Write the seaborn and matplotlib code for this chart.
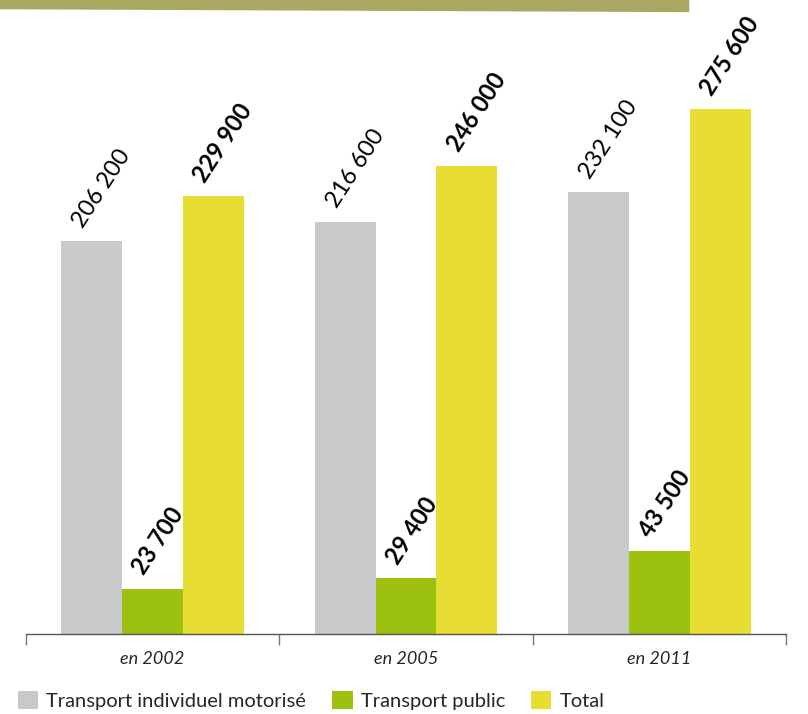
import pandas as pd
import matplotlib.pyplot as plt
import seaborn as sns
from matplotlib.patches import Patch, Polygon

# data
years = ["en 2002", "en 2005", "en 2011"]
series = ["Transport individuel motorisé", "Transport public", "Total"]
tim = [206200, 216600, 232100]
tp = [23700, 29400, 43500]
total = [229900, 246000, 275600]
value_labels = {
    "Transport individuel motorisé": ["206 200", "216 600", "232 100"],
    "Transport public": ["23 700", "29 400", "43 500"],
    "Total": ["229 900", "246 000", "275 600"],
}
colors = ["#C8C9CB", "#9DC10F", "#E8DD32"]

df = pd.DataFrame({
    "year": years * 3,
    "serie": [series[0]] * 3 + [series[1]] * 3 + [series[2]] * 3,
    "value": tim + tp + total,
})

sns.set_style("white")
plt.rcParams['font.family'] = ['Lato', 'DejaVu Sans']

fig = plt.figure(figsize=(8.08, 7.14), dpi=100)
ax = fig.add_axes([0.032, 0.112, 0.941, 0.888])

sns.barplot(data=df, x="year", y="value", hue="serie", hue_order=series,
            palette=colors, width=0.72, gap=0, saturation=1, ax=ax,
            legend=False, errorbar=None, linewidth=0, edgecolor="none")

ax.set_ylim(0, 333000)
ax.set_xlim(-0.5, 2.5)

# value labels, rotated
for cont, name in zip(ax.containers, series):
    bold = name != series[0]
    for bar, lab in zip(cont, value_labels[name]):
        x = bar.get_x() + bar.get_width() / 2
        ax.annotate(lab, (x, bar.get_height()), xytext=(-6, 9),
                    textcoords="offset points", rotation=57,
                    rotation_mode="anchor", ha="left", va="baseline",
                    fontsize=17, fontweight="bold" if bold else "normal",
                    color="black")

# axis styling
for s in ["top", "left", "right"]:
    ax.spines[s].set_visible(False)
ax.spines["bottom"].set_color("#555555")
ax.spines["bottom"].set_linewidth(1)
ax.set_yticks([])
ax.set_xticks([-0.5, 0.5, 1.5, 2.5])
ax.set_xticklabels([])
ax.tick_params(axis="x", which="major", direction="out", length=8,
               color="#777777", width=1, bottom=True)
ax.set_xticks([0, 1, 2], minor=True)
ax.set_xticklabels(years, minor=True, fontstyle="italic", fontsize=13)
ax.tick_params(axis="x", which="minor", length=0, pad=12)
ax.set_xlabel("")
ax.set_ylabel("")

# olive banner on top
fig.patches.append(Polygon([[0, 1.0], [0.853, 1.0], [0.853, 0.983], [0, 0.987]],
                           closed=True, transform=fig.transFigure,
                           facecolor="#A8A862", edgecolor="none"))

handles = [Patch(facecolor=c, edgecolor="none", label=s) for c, s in zip(colors, series)]
fig.legend(handles=handles, loc="lower left", bbox_to_anchor=(0.0, -0.02),
           ncol=3, frameon=False, fontsize=14.5, handlelength=1.0, handleheight=1.0,
           handletextpad=0.4, columnspacing=1.3)

fig.savefig("out.png", dpi=100)
